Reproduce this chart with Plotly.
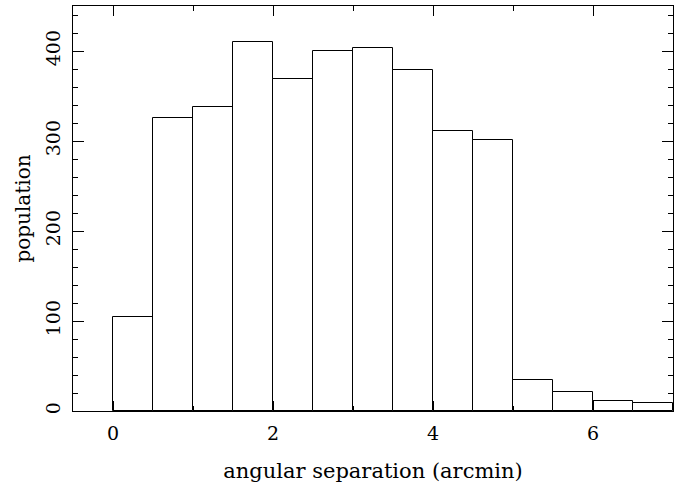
import plotly.graph_objects as go

bin_left = [0.0, 0.5, 1.0, 1.5, 2.0, 2.5, 3.0, 3.5, 4.0, 4.5, 5.0, 5.5, 6.0, 6.5]
counts = [104, 326, 338, 410, 369, 400, 403, 379, 311, 301, 34, 21, 11, 9]
bin_width = 0.5
x_tick_vals = [0, 2, 4, 6]
y_tick_vals = [0, 100, 200, 300, 400]

centers = [b + bin_width / 2 for b in bin_left]

font_family = "DejaVu Serif"

fig = go.Figure(
    go.Bar(
        x=centers,
        y=counts,
        width=bin_width,
        marker=dict(color="white", line=dict(color="black", width=1)),
        showlegend=False,
    )
)

fig.update_layout(
    width=686,
    height=488,
    margin=dict(l=73, r=13, t=6, b=77),
    plot_bgcolor="white",
    paper_bgcolor="white",
    font=dict(family=font_family, size=19, color="black"),
    bargap=0,
)

fig.update_xaxes(
    range=[-0.5, 7],
    tickvals=x_tick_vals,
    ticks="inside",
    ticklen=10,
    tickwidth=1,
    tickcolor="black",
    minor=dict(dtick=1, tick0=0, ticks="inside", ticklen=5, tickcolor="black", tickwidth=1, showgrid=False),
    showline=True,
    linecolor="black",
    linewidth=1,
    mirror="allticks",
    showgrid=False,
    zeroline=False,
    tickfont=dict(family=font_family, size=19),
    ticklabelstandoff=5,
    title=dict(text="angular separation (arcmin)", font=dict(family=font_family, size=21), standoff=20),
)

fig.update_yaxes(
    range=[0, 450],
    tickvals=y_tick_vals,
    tickangle=-90,
    ticks="inside",
    ticklen=11,
    tickwidth=1,
    tickcolor="black",
    minor=dict(dtick=20, tick0=0, ticks="inside", ticklen=5, tickcolor="black", tickwidth=1, showgrid=False),
    showline=True,
    linecolor="black",
    linewidth=1,
    mirror="allticks",
    showgrid=False,
    zeroline=False,
    tickfont=dict(family=font_family, size=19),
    ticklabelstandoff=4,
    title=dict(text="population", font=dict(family=font_family, size=20), standoff=6),
)

fig.write_html("out.html")
